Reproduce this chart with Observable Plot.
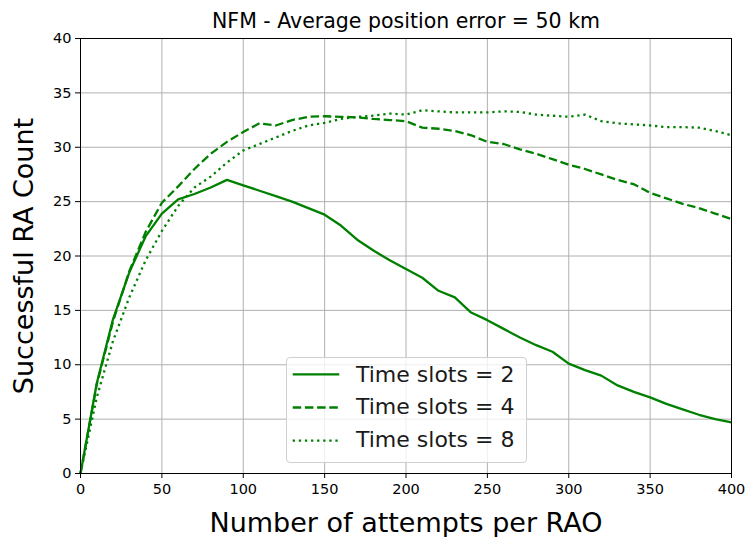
<!DOCTYPE html>
<html>
<head>
<meta charset="utf-8">
<script src="https://cdn.jsdelivr.net/npm/d3@7"></script>
<script src="https://cdn.jsdelivr.net/npm/@observablehq/plot@0.6"></script>
<style>
  html, body { margin: 0; padding: 0; background: white; overflow: hidden; }
  #wrap { position: relative; width: 748px; height: 537px; font-family: "DejaVu Sans", sans-serif; }
  #wrap svg [aria-label="y-axis label"] text, #wrap svg [aria-label="x-axis label"] text { font-size: 27px; fill: #000; }
  #legend { position: absolute; left: 286px; top: 357px; width: 241px; height: 106px;
    box-sizing: border-box; border: 1px solid #d0d0d0; border-radius: 4px; background: rgba(255,255,255,0.8); }
</style>
</head>
<body>
<div id="wrap"></div>
<script>
const titleText = "NFM - Average position error = 50 km";
const xLabel = "Number of attempts per RAO";
const yLabel = "Successful RA Count";
const xTicks = [0, 50, 100, 150, 200, 250, 300, 350, 400];
const yTicks = [0, 5, 10, 15, 20, 25, 30, 35, 40];
const seriesNames = ["Time slots = 2", "Time slots = 4", "Time slots = 8"];
const attempts = [0,10,20,30,40,50,60,70,80,90,100,110,120,130,140,150,160,170,180,190,200,210,220,230,240,250,260,270,280,290,300,310,320,330,340,350,360,370,380,390,400];
const ts2 = [0,8.3,14.2,18.5,21.8,23.9,25.2,25.7,26.3,27.0,26.5,26.0,25.5,25.0,24.4,23.8,22.8,21.5,20.5,19.6,18.8,18.0,16.8,16.2,14.8,14.1,13.3,12.5,11.8,11.2,10.1,9.5,9.0,8.1,7.5,7.0,6.4,5.9,5.4,5.0,4.7];
const ts4 = [0,8.2,14.0,18.6,22.2,24.9,26.4,28.0,29.4,30.5,31.4,32.2,32.0,32.5,32.8,32.85,32.8,32.75,32.6,32.5,32.4,31.8,31.7,31.5,31.1,30.5,30.3,29.8,29.4,28.9,28.4,28.0,27.5,27.0,26.6,25.8,25.3,24.8,24.4,23.9,23.4];
const ts8 = [0,7.0,12.2,16.2,19.6,22.3,24.6,26.3,27.3,28.6,29.7,30.3,30.9,31.5,32.0,32.25,32.6,32.8,32.9,33.1,33.0,33.4,33.3,33.2,33.2,33.2,33.3,33.25,33.0,32.9,32.8,33.0,32.4,32.2,32.1,32.0,31.85,31.85,31.8,31.5,31.1];

const green = "#008000";
const lineWidth = 2.3;
const dashes = [null, "8.5,3.7", "2.3,3.8"];
const allSeries = [ts2, ts4, ts8];
const rows = (ys) => attempts.map((x, i) => ({x, y: ys[i]}));

const plot = Plot.plot({
  width: 748, height: 537,
  marginLeft: 80, marginRight: 17, marginTop: 38, marginBottom: 64,
  style: { fontFamily: "DejaVu Sans, sans-serif", fontSize: "14.5px", background: "white", color: "#000", overflow: "visible" },
  x: { domain: [0, 400] },
  y: { domain: [0, 40] },
  marks: [
    Plot.gridX(xTicks, { stroke: "#b0b0b0", strokeOpacity: 1, strokeWidth: 1 }),
    Plot.gridY(yTicks, { stroke: "#b0b0b0", strokeOpacity: 1, strokeWidth: 1 }),
    ...allSeries.map((ys, k) => Plot.line(rows(ys), {
      x: "x", y: "y", stroke: green, strokeWidth: lineWidth,
      strokeDasharray: dashes[k], strokeLinecap: "butt", strokeLinejoin: "round"
    })),
    Plot.frame({ stroke: "#000", strokeWidth: 1 }),
    Plot.axisX(xTicks, { tickSize: 5, tickPadding: 5, label: xLabel, labelAnchor: "center", labelArrow: "none", labelOffset: 58 }),
    Plot.axisY(yTicks, { tickSize: 5, tickPadding: 4, label: yLabel, labelAnchor: "center", labelArrow: "none", labelOffset: 67 }),
    Plot.text([titleText], { text: d => d, frameAnchor: "top", dy: -25, fontSize: 20.5, fill: "#000" })
  ]
});

const wrap = document.getElementById("wrap");
wrap.appendChild(plot);

// Legend (HTML overlay with a small SVG of samples and labels)
const ns = "http://www.w3.org/2000/svg";
const legend = document.createElement("div");
legend.id = "legend";
const ls = document.createElementNS(ns, "svg");
ls.setAttribute("width", "241"); ls.setAttribute("height", "106");
ls.style.position = "absolute"; ls.style.left = "-1px"; ls.style.top = "-1px";
const sampleY = [17.3, 50.5, 83.7];
const textY = [25, 57.3, 89.7];
seriesNames.forEach((name, k) => {
  const l = document.createElementNS(ns, "line");
  l.setAttribute("x1", "6.7"); l.setAttribute("x2", "53.3");
  l.setAttribute("y1", sampleY[k]); l.setAttribute("y2", sampleY[k]);
  l.setAttribute("stroke", green); l.setAttribute("stroke-width", lineWidth);
  if (dashes[k]) l.setAttribute("stroke-dasharray", dashes[k]);
  ls.appendChild(l);
  const t = document.createElementNS(ns, "text");
  t.setAttribute("x", "70"); t.setAttribute("y", textY[k]);
  t.setAttribute("font-family", "DejaVu Sans, sans-serif");
  t.setAttribute("font-size", "22");
  t.setAttribute("fill", "#1a1a1a");
  t.textContent = name;
  ls.appendChild(t);
});
legend.appendChild(ls);
wrap.appendChild(legend);
</script>
</body>
</html>
